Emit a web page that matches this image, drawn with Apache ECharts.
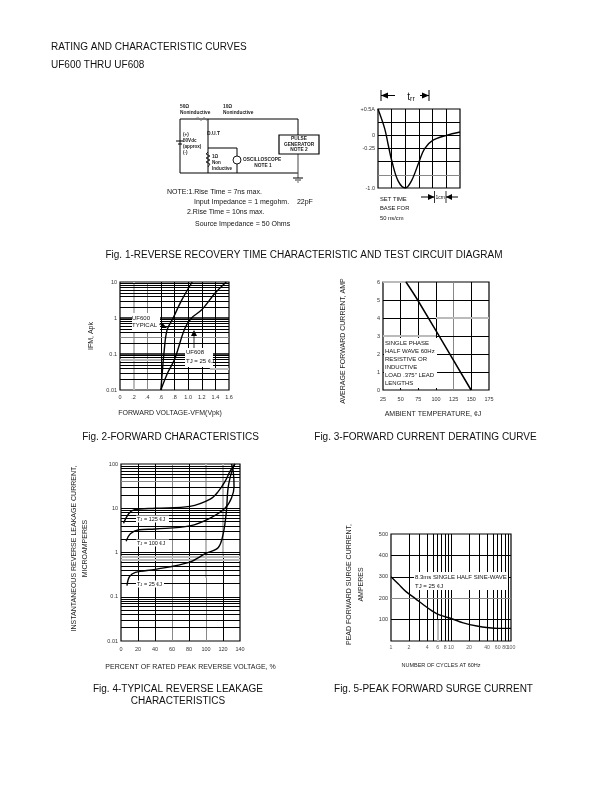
<!DOCTYPE html>
<html><head><meta charset="utf-8">
<style>html,body{margin:0;padding:0;background:#fff}#c{width:612px;height:792px}</style>
<script src="https://cdn.jsdelivr.net/npm/echarts@6/dist/echarts.min.js"></script>
</head><body><div id="c"></div>
<script>
// ---------- data ----------
const fig1Curve=[[0,0.5],[0.49,0.128],[0.73,-0.16],[1.03,-0.506],[1.47,-0.865],[2,-1],[2.45,-0.865],[3,-0.506],[3.4,-0.256],[4,-0.096],[5,0],[6,0.064]];
const fig1YLabels={'0.5':'+0.5A','0':'0','-0.25':'-0.25','-1':'-1.0'};
const fig2UF600=[[0.6,0.01],[0.62,0.03],[0.644,0.1],[0.69,0.46],[0.78,1],[0.9,3],[1.06,10]];
const fig2UF608=[[0.6,0.01],[0.7,0.03],[0.8,0.07],[0.95,0.5],[1.05,1],[1.2,1.7],[1.4,5],[1.56,10]];
const fig2XLabels=['0','.2','.4','.6','.8','1.0','1.2','1.4','1.6'];
const fig3Curve=[[57.5,6],[74,5],[149.6,0]];
const fig4T125=[[3,4.6],[9,7.5],[15,9.2],[40.5,10],[81,11],[105,16],[114.5,24],[122.6,41],[128.4,69],[134,100]];
const fig4T100=[[6,1.8],[11,2.65],[21,3.26],[40.5,3.4],[81,4],[105,6],[122.6,10.1],[130,17],[133,31],[132,69],[130,100]];
const fig4T25=[[7,0.178],[10,0.284],[17,0.355],[40.5,0.415],[80,0.6],[99.5,0.95],[114.5,1.3],[120.4,2.75],[124,8.5],[126,29],[130.4,69],[134,100]];
const fig5Curve=[[1,300],[1.33,266],[1.76,232],[2.58,197],[3.6,166],[4.76,142],[6.4,122],[10.3,104],[16,85],[27,70],[43,62],[62,59],[100,59]];
const fig5XLabels=[1,2,4,6,8,10,20,40,60,80,100];
const logMinor10=[0.02,0.03,0.04,0.05,0.06,0.07,0.08,0.09,0.1,0.2,0.3,0.4,0.5,0.6,0.7,0.8,0.9,1,2,3,4,5,6,7,8,9];
const logMinor100=[20,30,40,50,60,70,80,90];
// ---------- helpers ----------
const FF='"Liberation Sans",Arial,sans-serif';
const K={color:'#000',width:1,type:'solid'},KH={color:'#000',width:1.6,type:'solid'},
      G={color:'#bbb',width:2,type:'solid'},T={color:'#888',width:1,type:'solid'};
const series=[];
function seg(i,a,b,st){series.push({type:'line',xAxisIndex:i,yAxisIndex:i,data:[],silent:true,z:2,
  markLine:{silent:true,z:2,symbol:'none',animation:false,label:{show:false},lineStyle:st,
    emphasis:{disabled:true},data:a.map((p,k)=>[{coord:p},{coord:b[k]}])}});}
function vl(i,xs,y0,y1,st){seg(i,xs.map(x=>[x,y0]),xs.map(x=>[x,y1]),st);}
function hl(i,ys,x0,x1,st){seg(i,ys.map(y=>[x0,y]),ys.map(y=>[x1,y]),st);}
function curve(i,d,w){series.push({type:'line',xAxisIndex:i,yAxisIndex:i,data:d,smooth:0.35,showSymbol:false,silent:true,z:8,clip:true,
  lineStyle:{color:'#000',width:w||1.4}});}
const nm=(o)=>Object.assign({fontSize:7,color:'#222',fontFamily:FF},o||{});
const lab=(o)=>Object.assign({fontSize:5.5,color:'#333',fontFamily:FF,margin:3},o||{});
function ax(i,o){return Object.assign({gridIndex:i,axisTick:{show:false},axisLine:{show:false},splitLine:{show:false},minorTick:{show:false},
  axisLabel:lab(),nameTextStyle:nm(),nameLocation:'middle'},o);}
const gr=(l,t,w,h)=>({left:l,top:t,width:w,height:h,show:true,borderColor:'#000',borderWidth:1.2,backgroundColor:'transparent',containLabel:false});
const grid=[gr(378,109,82,79),gr(120,282,109,108),gr(383,282,106,108),gr(121,464,119,177),gr(391,534,120,107)];
const xAxis=[
 ax(0,{type:'value',min:0,max:6,interval:1,axisLabel:{show:false}}),
 ax(1,{type:'value',min:0,max:1.6,interval:0.2,name:'FORWARD VOLTAGE-VFM(Vpk)',nameGap:20,nameTextStyle:nm({padding:[0,9,0,0]}),axisLabel:lab({margin:4,formatter:(v,i)=>fig2XLabels[i]})}),
 ax(2,{type:'value',min:25,max:175,interval:25,name:'AMBIENT TEMPERATURE, ¢J',nameGap:21,nameTextStyle:nm({padding:[0,6,0,0]}),axisLabel:lab({margin:6})}),
 ax(3,{type:'value',min:0,max:140,interval:20,name:'PERCENT OF RATED PEAK REVERSE VOLTAGE, %',nameGap:23,nameTextStyle:nm({padding:[0,0,0,20]}),axisLabel:lab({margin:5})}),
 ax(4,{type:'log',logBase:10,min:1,max:100,axisLabel:{show:false},name:'NUMBER OF CYCLES AT 60Hz',nameGap:21,nameTextStyle:nm({fontSize:5.5,padding:[0,20,0,0]})})
];
const yAxis=[
 ax(0,{type:'value',min:-1,max:0.5,interval:0.25,axisLabel:lab({formatter:v=>fig1YLabels[String(v)]||''})}),
 ax(1,{type:'log',logBase:10,min:0.01,max:10,name:'IFM, Apk',nameGap:25,axisLabel:lab()}),
 ax(2,{type:'value',min:0,max:6,interval:1,name:'AVERAGE FORWARD CURRENT, AMP',nameGap:36,nameTextStyle:nm({padding:[0,10,0,0]}),axisLabel:lab({padding:[3,0,0,0]})}),
 ax(3,{type:'log',logBase:10,min:0.01,max:100,name:'INSTANTANEOUS REVERSE LEAKAGE CURRENT,\nMICROAMPERES',nameGap:30,
   nameTextStyle:nm({lineHeight:11,padding:[0,0,0,8]}),axisLabel:lab()}),
 ax(4,{type:'value',min:0,max:500,interval:100,name:'PEAD FORWARD SURGE CURRENT,\nAMPERES',nameGap:24,
   nameTextStyle:nm({lineHeight:12,padding:[0,0,0,6]}),axisLabel:lab({padding:[7,0,0,0],formatter:v=>v===0?'':String(v)})})
];
// Fig 1 grid
vl(0,[1,2,3,4,5],-1,0.5,K); hl(0,[0.25,0,-0.25,-0.5],0,6,K); hl(0,[-0.75],0,6,T);
curve(0,fig1Curve);
// Fig 2 grid
vl(1,[0.6,0.8,1,1.2,1.4],0.01,10,K); vl(1,[0.2],0.01,10,G); vl(1,[0.4],0.01,10,T);
hl(1,logMinor10.filter(v=>![0.3,0.07,0.04,1,0.1].includes(v)),0,1.6,K);
hl(1,[1,0.1],0,1.6,KH); hl(1,[0.3],0,1.6,T); hl(1,[0.07],0,0.6,G); hl(1,[0.07],0.6,1.6,K); hl(1,[0.04],0,1.32,K); hl(1,[0.04],1.32,1.6,G);
curve(1,fig2UF600); curve(1,fig2UF608);
// Fig 3 grid
vl(2,[50,75,100,150],0,6,K); vl(2,[125],0,6,T);
hl(2,[1,2,5],25,175,K);
hl(2,[3],25,100,G); hl(2,[3],100,175,K); hl(2,[4],25,100,K); hl(2,[4],100,175,G); hl(2,[6],25,57,G);
curve(2,fig3Curve,1.5);
// Fig 4 grid
vl(3,[20,40,80],0.01,100,K); vl(3,[60],0.01,100,T); vl(3,[100],0.27,100,G); vl(3,[100],0.01,0.27,T); vl(3,[120],0.85,100,G); vl(3,[120],0.01,0.85,K);
hl(3,logMinor10.filter(v=>![0.7,0.8].includes(v)),0,140,K); hl(3,[0.7,0.8],0,140,G);
hl(3,[10,20,30,50,60,70,80,90],0,140,K); hl(3,[40],0,140,T);
curve(3,fig4T125); curve(3,fig4T100); curve(3,fig4T25);
// Fig 5 grid
vl(4,[2,3,4,5,7,8,9,10],0,500,K); vl(4,[6],100,500,K); vl(4,[6],0,100,G);
vl(4,logMinor100,0,500,K);
hl(4,[100,300,400],1,100,K); hl(4,[200],1,100,T);
curve(4,fig5Curve);
series.push({type:'scatter',xAxisIndex:4,yAxisIndex:4,symbolSize:0,silent:true,clip:false,z:8,
  data:fig5XLabels.map(v=>[v,0]),label:{show:true,position:'bottom',distance:4,fontSize:5.2,color:'#333',fontFamily:FF,formatter:p=>String(p.value[0])}});
// ---------- graphic ----------
const g=[];
function txt(x,y,s,size,o){g.push({type:'text',x:x,y:y,z:7,silent:true,
  style:Object.assign({text:s,fontSize:size,fontFamily:FF,fill:'#111',align:'left',verticalAlign:'middle'},o||{})});}
function box(x,y,w,h){g.push({type:'rect',z:6,silent:true,shape:{x:x,y:y,width:w,height:h},style:{fill:'#fff'}});}
function wire(pts,w,col){g.push({type:'polyline',z:7,silent:true,shape:{points:pts},style:{stroke:col||'#000',lineWidth:w||1,fill:null}});}
function tri(pts){g.push({type:'polygon',z:7,silent:true,shape:{points:pts},style:{fill:'#000'}});}
const C={align:'center'};
// headers & captions
txt(51,47,'RATING AND CHARACTERISTIC CURVES',10);
txt(51,65,'UF600 THRU UF608',10);
txt(304,255,'Fig. 1-REVERSE RECOVERY TIME CHARACTERISTIC AND TEST CIRCUIT DIAGRAM',10,C);
txt(170.5,437,'Fig. 2-FORWARD CHARACTERISTICS',10,C);
txt(425.5,437,'Fig. 3-FORWARD CURRENT DERATING CURVE',10,C);
txt(178,689,'Fig. 4-TYPICAL REVERSE LEAKAGE',10,C);
txt(178,701,'CHARACTERISTICS',10,C);
txt(433.5,689,'Fig. 5-PEAK FORWARD SURGE CURRENT',10,C);
// circuit
wire([[180,119],[298,119],[298,135]],1); wire([[180,119],[180,173],[298,173]],1);
wire([[298,153],[298,178]],1,'#444'); wire([[208,119],[208,173]],1);
wire([[208,148],[237,148],[237,156]],1); wire([[237,164],[237,173]],1);
g.push({type:'circle',z:7,silent:true,shape:{cx:237,cy:160,r:4},style:{stroke:'#000',lineWidth:0.9,fill:'#fff'}});
g.push({type:'rect',z:7,silent:true,shape:{x:279,y:135,width:40,height:19},style:{stroke:'#000',lineWidth:1.2,fill:'#fff'}});
box(176,137,8,12); wire([[176,141],[184,141]],1); wire([[178,144],[182,144]],1);
box(205,151,6,18); wire([[208,152],[206,154],[210,156],[206,158],[210,160],[206,162],[210,164],[208,167]],0.8);
wire([[293,178],[303,178]],1); wire([[295,180],[301,180]],0.8); wire([[297,182],[299,182]],0.6);
wire([[195,119],[198,117],[201,121],[204,117],[207,121]],0.5,'#666');
const cb={fontWeight:'bold',fill:'#222'};
const cc=Object.assign({},cb,C);
txt(180,107,'50Ω',4.8,cb); txt(180,113,'Noninductive',4.8,cb); txt(223,107,'10Ω',4.8,cb); txt(223,113,'Noninductive',4.8,cb);
txt(183,135,'(+)',4.6,cb); txt(183,141,'50Vdc',4.6,cb); txt(183,147,'(approx)',4.6,cb); txt(183,153,'(-)',4.6,cb);
txt(207,134,'D.U.T',5,cb); txt(212,157,'1Ω',4.6,cb); txt(212,163,'Non',4.6,cb); txt(212,169,'Inductive',4.6,cb);
txt(243,160,'OSCILLOSCOPE',4.8,cb); txt(263,166,'NOTE 1',4.8,cc);
txt(299,139,'PULSE',4.8,cc); txt(299,145,'GENERATOR',4.8,cc); txt(299,150,'NOTE 2',4.8,cc);
txt(167,192,'NOTE:1.Rise Time = 7ns max.',7); txt(194,202,'Input Impedance = 1 megohm.    22pF',7);
txt(187,212,'2.Rise Time = 10ns max.',7); txt(195,224,'Source Impedance = 50 Ohms',7);
// Fig 1 annotations
wire([[381,90],[381,101]],1); wire([[381,95.5],[395,95.5]],1); tri([[381,95.5],[388,92.5],[388,98.5]]);
wire([[429,90],[429,101]],1); wire([[420,95.5],[429,95.5]],1); tri([[429,95.5],[422,92.5],[422,98.5]]);
g.push({type:'text',x:411,y:97,z:7,silent:true,style:{text:'t{s|rr}',fontSize:10,fontFamily:FF,fill:'#111',align:'center',verticalAlign:'middle',rich:{s:{fontSize:7,fontFamily:FF,fill:'#111',padding:[5,0,0,0]}}}});
wire([[421,197],[434,197]],1); tri([[434.5,197],[428,194],[428,200]]); wire([[434.5,191],[434.5,203]],0.8);
wire([[446,197],[458,197]],1); tri([[446,197],[452,194],[452,200]]); wire([[446,191],[446,203]],0.8);
txt(440.3,198,'1cm',5,C);
txt(380,199,'SET TIME',5.8); txt(380,208,'BASE FOR',5.8); txt(380,218,'50 ns/cm',5.8);
// Fig 2 annotations
box(132,313,28,19); txt(132,318,'UF600',6); txt(132,325,'TYPICAL',6);
wire([[159,324],[164,326]],0.7); tri([[167,328],[162,322.5],[161,328]]);
box(185,348,28,19); txt(186,352,'UF608',6); txt(186,361,'TJ = 25 ¢J',6);
wire([[194,348],[194,334]],0.8); tri([[194,330],[191,336],[197,336]]);
// Fig 3 annotations
box(384,338,53,50);
['SINGLE PHASE','HALF WAVE 60Hz','RESISTIVE OR','INDUCTIVE','LOAD .375" LEAD','LENGTHS'].forEach((s,i)=>txt(385,343+i*8,s,6));
// Fig 4 annotations
[[519,'125'],[543,'100'],[584,'25']].forEach(a=>{box(136,a[0]-3.5,a[1]==='25'?28:33,7);
 g.push({type:'text',x:137,y:a[0],z:7,silent:true,style:{text:'T{s|J} = '+a[1]+' ¢J',fontSize:5.5,fontFamily:FF,fill:'#111',verticalAlign:'middle',rich:{s:{fontSize:4,fontFamily:FF,fill:'#111',padding:[2,0,0,0]}}}});});
// Fig 5 annotations
box(414,572,94,18); txt(415,577,'8.3ms SINGLE HALF SINE-WAVE',6); txt(415,586,'TJ = 25 ¢J',6);

const chart=echarts.init(document.getElementById('c'),null,{renderer:'canvas',width:612,height:792});
chart.setOption({animation:false,backgroundColor:'#fff',tooltip:{show:false},grid,xAxis,yAxis,series,graphic:{elements:g}});
</script></body></html>
